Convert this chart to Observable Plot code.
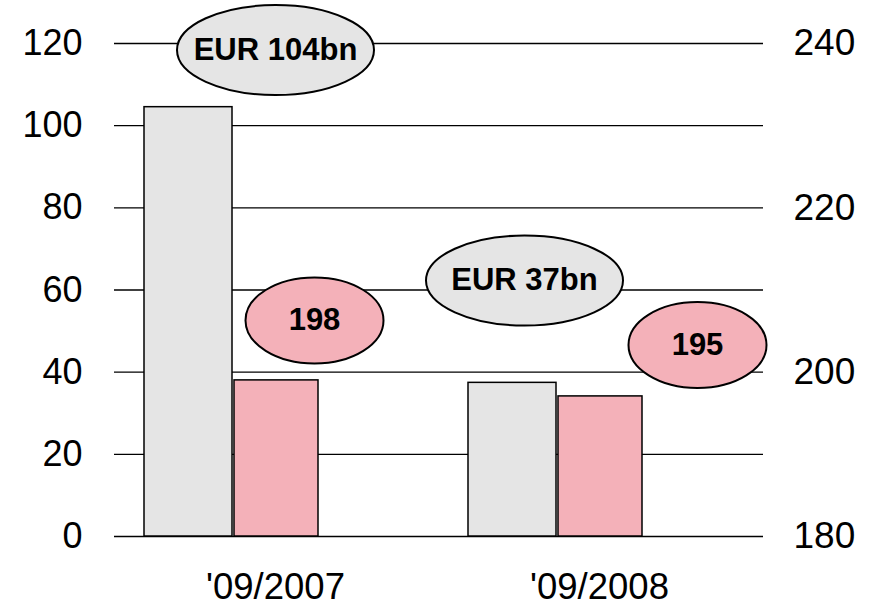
<!DOCTYPE html>
<html>
<head>
<meta charset="utf-8">
<script src="https://cdn.jsdelivr.net/npm/d3@7"></script>
<script src="https://cdn.jsdelivr.net/npm/@observablehq/plot@0.6"></script>
<style>
  html, body { margin: 0; padding: 0; background: #ffffff; }
</style>
</head>
<body>
<div id="chart"></div>
<script>
// ---- data ----
const periods = ["'09/2007", "'09/2008"];
const volumeEURbn = [104.5, 37.4];          // grey bars, left axis
const rightSeries = [199.0, 197.05];        // pink bars, right axis
const leftTicks = [0, 20, 40, 60, 80, 100, 120];
const rightTicks = [180, 200, 220, 240];
const labelTexts = ["EUR 104bn", "198", "EUR 37bn", "195"];
const labelPeriods = ["'09/2007", "'09/2007", "'09/2008", "'09/2008"];
const labelLevels = [118.4, 52.6, 62.3, 46.6]; // left-axis units
const labelKinds = ["grey", "pink", "grey", "pink"];
const labelShift = [44, 83, -31, 142];

// right axis (180..240) mapped onto left axis (0..120)
const toLeft = v => (v - 180) * 2;

const greyData = periods.map((p, i) => ({period: p, value: volumeEURbn[i]}));
const pinkData = periods.map((p, i) => ({period: p, value: toLeft(rightSeries[i])}));

const GREY = "#e5e5e5", PINK = "#f4b1b9";
const FONT = "'Liberation Sans', Arial, Helvetica, sans-serif";

function ellipseSymbol(rx, ry) {
  const k = 0.5522847498;
  return {
    draw(ctx) {
      ctx.moveTo(rx, 0);
      ctx.bezierCurveTo(rx, ry * k, rx * k, ry, 0, ry);
      ctx.bezierCurveTo(-rx * k, ry, -rx, ry * k, -rx, 0);
      ctx.bezierCurveTo(-rx, -ry * k, -rx * k, -ry, 0, -ry);
      ctx.bezierCurveTo(rx * k, -ry, rx, -ry * k, rx, 0);
      ctx.closePath();
    }
  };
}
const wideEllipse = ellipseSymbol(98.5, 45);
const smallEllipse = ellipseSymbol(69, 43);

const annotationMarks = labelTexts.flatMap((t, i) => {
  const d = [{period: labelPeriods[i], y: labelLevels[i], text: t}];
  const grey = labelKinds[i] === "grey";
  return [
    Plot.dot(d, {x: "period", y: "y", dx: labelShift[i], r: 1,
      symbol: grey ? wideEllipse : smallEllipse,
      fill: grey ? GREY : PINK, stroke: "black", strokeWidth: 2}),
    Plot.text(d, {x: "period", y: "y", dx: labelShift[i], text: "text",
      fontSize: 31, fontWeight: "bold", fill: "black"})
  ];
});

const chart = Plot.plot({
  width: 876,
  height: 607,
  marginLeft: 114,
  marginRight: 113,
  marginTop: 43,
  marginBottom: 71,
  style: {fontFamily: FONT, background: "#ffffff", color: "black"},
  x: {domain: periods, paddingInner: 0.4625, paddingOuter: 0.2314, align: 0.2, axis: null},
  y: {domain: [0, 120], axis: null},
  marks: [
    Plot.ruleY(leftTicks, {stroke: "black", strokeWidth: 1.3}),
    Plot.barY(greyData, {x: "period", y: "value", fill: GREY, stroke: "black", strokeWidth: 1.5, insetRight: 86}),
    Plot.barY(pinkData, {x: "period", y: "value", fill: PINK, stroke: "black", strokeWidth: 1.5, insetLeft: 90}),
    ...annotationMarks,
    Plot.text(leftTicks, {y: d => d, text: d => String(d), frameAnchor: "left",
      textAnchor: "end", dx: -32, fontSize: 36, fill: "black"}),
    Plot.text(rightTicks, {y: d => toLeft(d), text: d => String(d), frameAnchor: "right",
      textAnchor: "start", dx: 30, fontSize: 37, fill: "black"}),
    Plot.text(periods, {x: d => d, text: d => d, frameAnchor: "bottom", lineAnchor: "top",
      dy: 37, dx: 44, fontSize: 36.5, fill: "black"})
  ]
});
document.getElementById("chart").appendChild(chart);
</script>
</body>
</html>
